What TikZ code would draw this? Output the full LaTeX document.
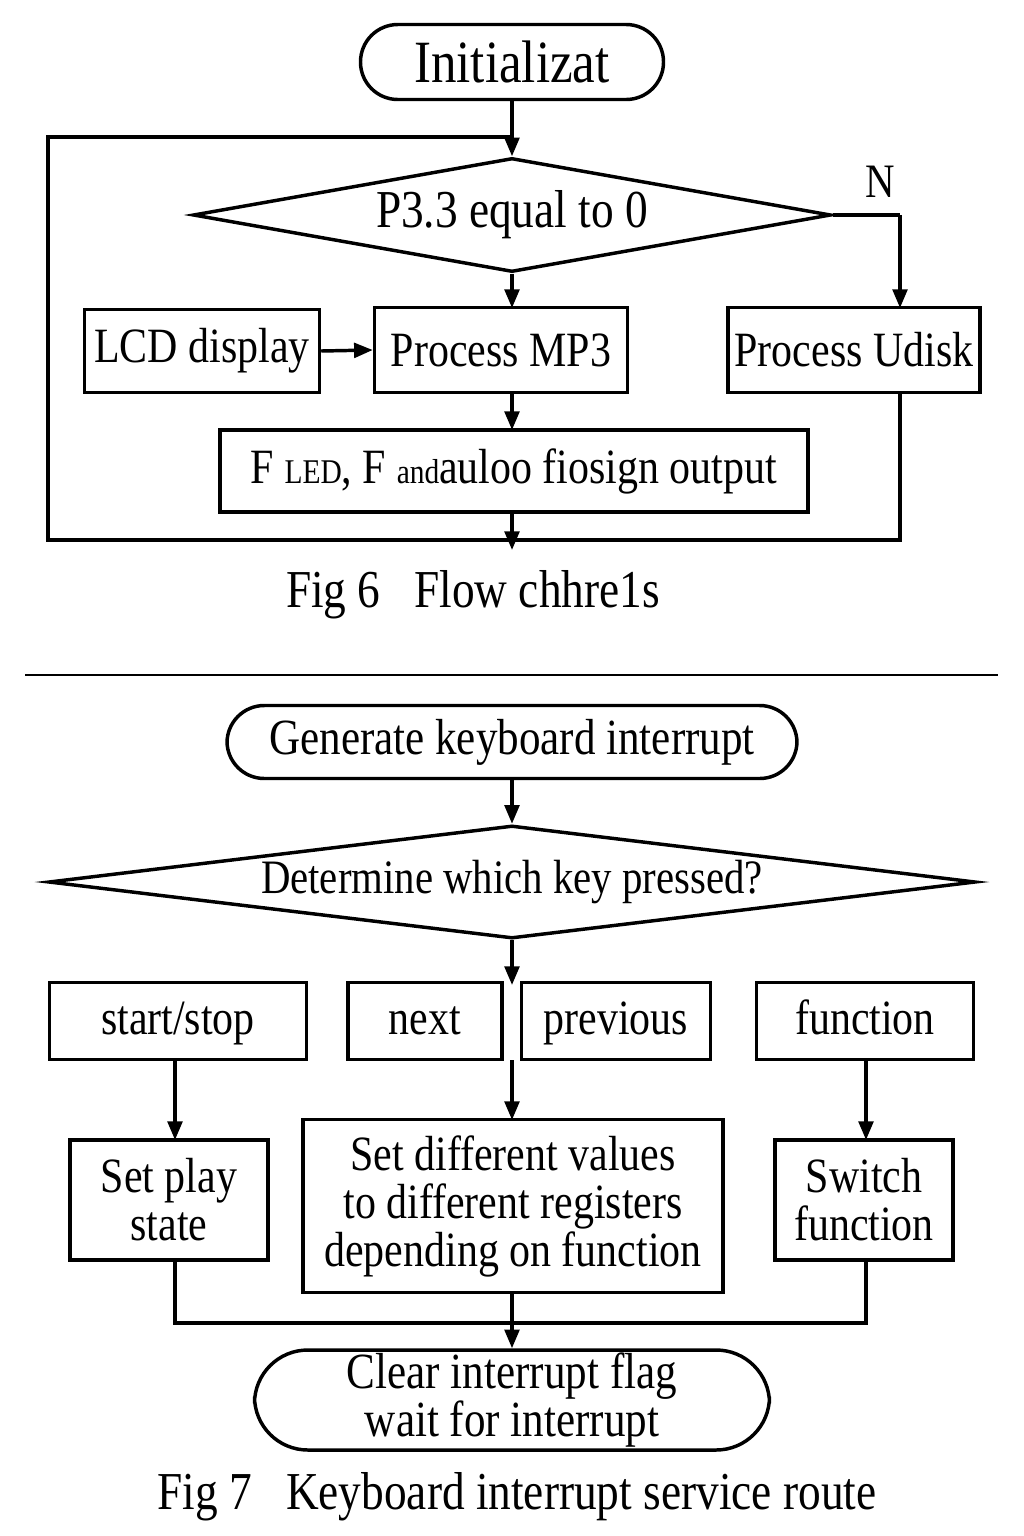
\documentclass[tikz,border=0pt]{standalone}
\usepackage{fontspec}
\setmainfont{Liberation Serif}[FakeStretch=0.85]
\usetikzlibrary{shapes.geometric,arrows.meta}
\begin{document}
\begin{tikzpicture}[x=0.75pt,y=-0.75pt,
  line width=2.6pt,
  arr/.style={-{Triangle[length=14pt,width=11pt]}},
  box/.style={draw,rectangle,inner sep=0pt,align=center,font=\fontsize{37}{36}\selectfont},
  rbox/.style={draw,rounded corners=28pt,inner sep=0pt,align=center,font=\fontsize{36}{34}\selectfont},
  dia/.style={draw,diamond,inner sep=0pt},
  captxt/.style={font=\fontsize{40}{40}\selectfont}]
\useasboundingbox (0,0) rectangle (1024,1536);
% Fig 6
\node[rbox,minimum width=303*0.75pt,minimum height=75*0.75pt,font=\fontsize{45}{44}\selectfont] (init) at (512,62) {Initializat};
\node[dia,minimum width=638*0.75pt,minimum height=114*0.75pt,aspect=5.6] (d1) at (512,215) {};
\node[font=\fontsize{40}{40}\selectfont] at (512,215) {P3.3 equal to 0};
\node[box,minimum width=235*0.75pt,minimum height=83*0.75pt] (lcd) at (202,351) {LCD display};
\node[box,minimum width=253*0.75pt,minimum height=85*0.75pt] (mp3) at (501,350) {Process MP3};
\node[box,minimum width=252*0.75pt,minimum height=85*0.75pt] (ud) at (854,350) {Process Udisk};
\node[box,minimum width=588*0.75pt,minimum height=82*0.75pt] (f) at (514,471) {F {\fontsize{26}{24}\selectfont LED}, F {\fontsize{26}{24}\selectfont and}auloo fiosign output};
\coordinate (top) at (512,137);
\coordinate (bot) at (512,540);
\coordinate (ne) at (900,215);
\node[font=\fontsize{36}{36}\selectfont] at (880,182) {N};
\draw[arr] (init.south) -- (d1.north);
\draw (bot) -| (48,137) -- (top);
\draw (d1.east) -- (ne);
\draw[arr] (ne) -- (900,308);
\draw[arr] (d1.south) -- (512,308);
\draw[arr] (lcd.east) -- (mp3.west);
\draw[arr] (512,393) -- (512,430);
\draw (900,393) -- (900,540) -- (bot);
\draw[arr] (512,512) -- (512,550);
\node[captxt] at (473,595) {Fig 6\ \ \ Flow chhre1s};
\draw[line width=1.5pt] (25,675) -- (998,675);
% Fig 7
\node[rbox,minimum width=570*0.75pt,minimum height=73*0.75pt,font=\fontsize{38}{36}\selectfont] (gen) at (512,742) {Generate keyboard interrupt};
\node[dia,minimum width=927*0.75pt,minimum height=113*0.75pt,aspect=8.2] (d2) at (512,882) {};
\node[font=\fontsize{36}{36}\selectfont] at (512,882) {Determine which key pressed?};
\node[box,minimum width=257*0.75pt,minimum height=77*0.75pt,text height=26pt,text depth=6pt] (ss) at (178,1021) {start/stop};
\node[box,minimum width=154*0.75pt,minimum height=77*0.75pt,text height=26pt,text depth=6pt] (nx) at (425,1021) {next};
\node[box,minimum width=189*0.75pt,minimum height=77*0.75pt,text height=26pt,text depth=6pt] (pv) at (616,1021) {previous};
\node[box,minimum width=217*0.75pt,minimum height=77*0.75pt,text height=26pt,text depth=6pt] (fn) at (865,1021) {function};
\node[box,minimum width=198*0.75pt,minimum height=120*0.75pt] (sp) at (169,1200) {Set play\\state};
\node[box,minimum width=420*0.75pt,minimum height=173*0.75pt] (sd) at (513,1206) {Set different values\\to\ different registers\\depending on function};
\node[box,minimum width=178*0.75pt,minimum height=120*0.75pt] (sw) at (864,1200) {Switch\\function};
\node[rbox,minimum width=515*0.75pt,minimum height=100*0.75pt,rounded corners=40pt,font=\fontsize{38}{33}\selectfont] (clr) at (512,1400) {Clear interrupt flag\\wait for interrupt};
\draw[arr] (gen.south) -- (d2.north);
\draw[arr] (d2.south) -- (512,985);
\draw[arr] (175,1060) -- (175,1140);
\draw[arr] (512,1060) -- (512,1120);
\draw[arr] (866,1060) -- (866,1140);
\draw (175,1260) -- (175,1323) -- (866,1323) -- (866,1260);
\draw[arr] (512,1293) -- (clr.north);
\node[captxt] at (517,1497) {Fig 7\ \ \ Keyboard interrupt service route};
\end{tikzpicture}
\end{document}
